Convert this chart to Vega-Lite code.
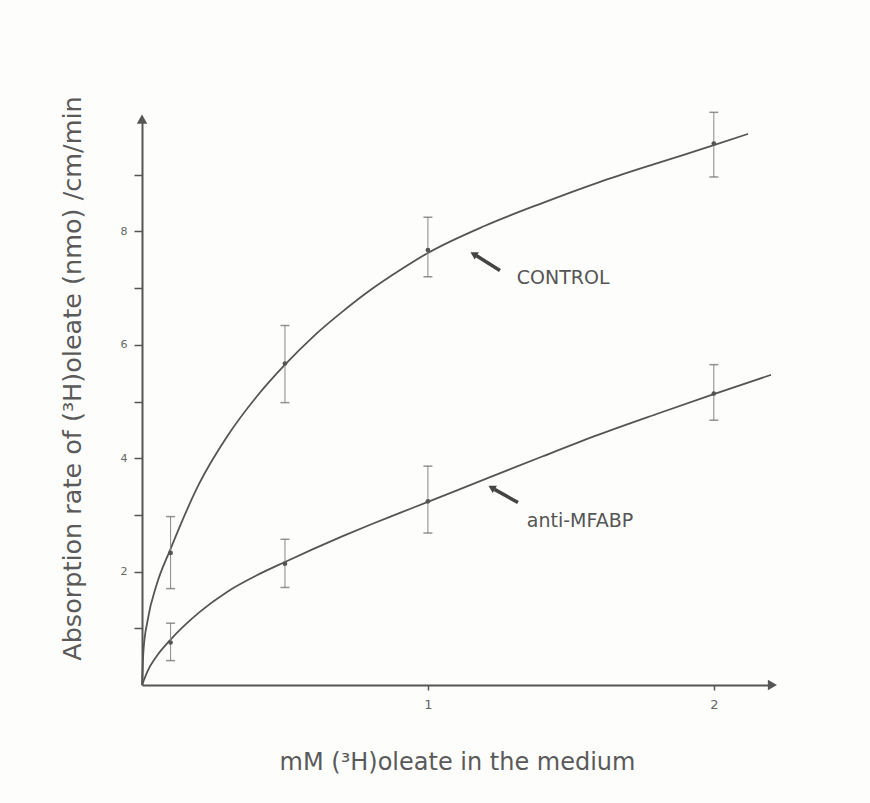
{
  "$schema": "https://vega.github.io/schema/vega-lite/v6.json",
  "autosize": {"type": "none"},
  "width": 629,
  "height": 567,
  "padding": {"left": 142, "top": 118, "right": 99, "bottom": 118},
  "background": "#fdfdfc",
  "config": {
    "view": {"stroke": null},
    "font": "DejaVu Sans",
    "axis": {"grid": false, "domainColor": "#555", "domainWidth": 2, "tickColor": "#555", "labelColor": "#666", "titleColor": "#5a5a5a", "labelFont": "DejaVu Sans", "titleFont": "DejaVu Sans", "titleFontWeight": "normal"}
  },
  "datasets": {
    "curve": [
      {"series": "CONTROL", "x": 0, "y": 0},
      {"series": "CONTROL", "x": 0.005, "y": 0.6},
      {"series": "CONTROL", "x": 0.02, "y": 1.15},
      {"series": "CONTROL", "x": 0.05, "y": 1.75},
      {"series": "CONTROL", "x": 0.1, "y": 2.4},
      {"series": "CONTROL", "x": 0.2, "y": 3.55},
      {"series": "CONTROL", "x": 0.3, "y": 4.4},
      {"series": "CONTROL", "x": 0.4, "y": 5.08},
      {"series": "CONTROL", "x": 0.5, "y": 5.65},
      {"series": "CONTROL", "x": 0.6, "y": 6.15},
      {"series": "CONTROL", "x": 0.7, "y": 6.58},
      {"series": "CONTROL", "x": 0.8, "y": 6.97},
      {"series": "CONTROL", "x": 0.9, "y": 7.31},
      {"series": "CONTROL", "x": 1.0, "y": 7.62},
      {"series": "CONTROL", "x": 1.2, "y": 8.1},
      {"series": "CONTROL", "x": 1.4, "y": 8.5},
      {"series": "CONTROL", "x": 1.6, "y": 8.87},
      {"series": "CONTROL", "x": 1.8, "y": 9.2},
      {"series": "CONTROL", "x": 2.0, "y": 9.52},
      {"series": "CONTROL", "x": 2.12, "y": 9.72},
      {"series": "anti-MFABP", "x": 0, "y": 0},
      {"series": "anti-MFABP", "x": 0.02, "y": 0.25},
      {"series": "anti-MFABP", "x": 0.05, "y": 0.5},
      {"series": "anti-MFABP", "x": 0.1, "y": 0.8},
      {"series": "anti-MFABP", "x": 0.2, "y": 1.28},
      {"series": "anti-MFABP", "x": 0.3, "y": 1.65},
      {"series": "anti-MFABP", "x": 0.4, "y": 1.93},
      {"series": "anti-MFABP", "x": 0.5, "y": 2.17},
      {"series": "anti-MFABP", "x": 0.6, "y": 2.4},
      {"series": "anti-MFABP", "x": 0.7, "y": 2.62},
      {"series": "anti-MFABP", "x": 0.8, "y": 2.83},
      {"series": "anti-MFABP", "x": 0.9, "y": 3.03},
      {"series": "anti-MFABP", "x": 1.0, "y": 3.23},
      {"series": "anti-MFABP", "x": 1.2, "y": 3.63},
      {"series": "anti-MFABP", "x": 1.4, "y": 4.03},
      {"series": "anti-MFABP", "x": 1.6, "y": 4.42},
      {"series": "anti-MFABP", "x": 1.8, "y": 4.78},
      {"series": "anti-MFABP", "x": 2.0, "y": 5.13},
      {"series": "anti-MFABP", "x": 2.2, "y": 5.47}
    ],
    "obs": [
      {"series": "CONTROL", "x": 0.1, "y": 2.33, "lo": 1.7, "hi": 2.97},
      {"series": "CONTROL", "x": 0.5, "y": 5.67, "lo": 4.98, "hi": 6.34},
      {"series": "CONTROL", "x": 1.0, "y": 7.67, "lo": 7.2, "hi": 8.25},
      {"series": "CONTROL", "x": 2.0, "y": 9.55, "lo": 8.96, "hi": 10.1},
      {"series": "anti-MFABP", "x": 0.1, "y": 0.75, "lo": 0.43, "hi": 1.09},
      {"series": "anti-MFABP", "x": 0.5, "y": 2.14, "lo": 1.72, "hi": 2.57},
      {"series": "anti-MFABP", "x": 1.0, "y": 3.24, "lo": 2.68, "hi": 3.86},
      {"series": "anti-MFABP", "x": 2.0, "y": 5.14, "lo": 4.67, "hi": 5.65}
    ],
    "labels": [
      {"label": "CONTROL", "x": 1.311, "y": 7.17},
      {"label": "anti-MFABP", "x": 1.346, "y": 2.9}
    ],
    "pointers": [
      {"label": "CONTROL", "x": 1.252, "y": 7.31, "x2": 1.17, "y2": 7.57},
      {"label": "anti-MFABP", "x": 1.315, "y": 3.22, "x2": 1.233, "y2": 3.45}
    ],
    "pointerHeads": [
      {"label": "CONTROL", "x": 1.16, "y": 7.6, "angle": -60},
      {"label": "anti-MFABP", "x": 1.223, "y": 3.48, "angle": -60}
    ],
    "axisHeads": [
      {"axis": "y", "x": 0, "y": 9.98},
      {"axis": "x", "x": 2.205, "y": 0}
    ]
  },
  "layer": [
    {
      "data": {"name": "curve"},
      "mark": {"type": "line", "interpolate": "monotone", "color": "#555", "strokeWidth": 1.8, "clip": false},
      "encoding": {
        "x": {"field": "x", "type": "quantitative", "scale": {"domain": [0, 2.2], "nice": false},
          "axis": {"values": [1, 2], "format": "d", "tickSize": 5, "tickWidth": 1.5, "labelFontSize": 13, "labelPadding": 8, "title": "mM (³H)oleate in the medium", "titleFontSize": 24, "titleX": 315, "titleY": 77, "titleAlign": "center", "titleBaseline": "middle"}},
        "y": {"field": "y", "type": "quantitative", "scale": {"domain": [0, 10], "nice": false},
          "axis": {"values": [1, 2, 3, 4, 5, 6, 7, 8, 9], "format": "d", "labelExpr": "datum.value % 2 == 0 ? datum.label : ''", "tickSize": 8, "tickWidth": 1.5, "labelFontSize": 11, "labelPadding": 7, "title": "Absorption rate of (³H)oleate (nmo) /cm/min", "titleFontSize": 25.5, "titleAngle": -90, "titleX": -70, "titleY": 260, "titleAlign": "center", "titleBaseline": "middle"}},
        "detail": {"field": "series"}
      }
    },
    {
      "data": {"name": "obs"},
      "mark": {"type": "rule", "color": "#888", "strokeWidth": 1},
      "encoding": {"x": {"field": "x", "type": "quantitative"}, "y": {"field": "lo", "type": "quantitative"}, "y2": {"field": "hi"}}
    },
    {
      "data": {"name": "obs"},
      "mark": {"type": "tick", "orient": "horizontal", "color": "#666", "thickness": 1.5, "size": 9},
      "encoding": {"x": {"field": "x", "type": "quantitative"}, "y": {"field": "lo", "type": "quantitative"}}
    },
    {
      "data": {"name": "obs"},
      "mark": {"type": "tick", "orient": "horizontal", "color": "#666", "thickness": 1.5, "size": 9},
      "encoding": {"x": {"field": "x", "type": "quantitative"}, "y": {"field": "hi", "type": "quantitative"}}
    },
    {
      "data": {"name": "obs"},
      "mark": {"type": "point", "filled": true, "color": "#555", "size": 22, "opacity": 1},
      "encoding": {"x": {"field": "x", "type": "quantitative"}, "y": {"field": "y", "type": "quantitative"}}
    },
    {
      "data": {"name": "labels"},
      "mark": {"type": "text", "align": "left", "baseline": "middle", "fontSize": 19, "color": "#555", "font": "DejaVu Sans"},
      "encoding": {"x": {"field": "x", "type": "quantitative"}, "y": {"field": "y", "type": "quantitative"}, "text": {"field": "label"}}
    },
    {
      "data": {"name": "pointers"},
      "mark": {"type": "rule", "color": "#444", "strokeWidth": 3.5},
      "encoding": {"x": {"field": "x", "type": "quantitative"}, "y": {"field": "y", "type": "quantitative"}, "x2": {"field": "x2"}, "y2": {"field": "y2"}}
    },
    {
      "data": {"name": "pointerHeads"},
      "mark": {"type": "point", "shape": "triangle-up", "filled": true, "color": "#444", "size": 70, "opacity": 1},
      "encoding": {"x": {"field": "x", "type": "quantitative"}, "y": {"field": "y", "type": "quantitative"}, "angle": {"field": "angle", "type": "quantitative", "scale": null}}
    },
    {
      "data": {"name": "axisHeads"},
      "transform": [{"filter": "datum.axis == 'y'"}],
      "mark": {"type": "point", "shape": "triangle-up", "filled": true, "color": "#555", "size": 110, "opacity": 1, "clip": false},
      "encoding": {"x": {"field": "x", "type": "quantitative"}, "y": {"field": "y", "type": "quantitative"}}
    },
    {
      "data": {"name": "axisHeads"},
      "transform": [{"filter": "datum.axis == 'x'"}],
      "mark": {"type": "point", "shape": "triangle-right", "filled": true, "color": "#555", "size": 110, "opacity": 1, "clip": false},
      "encoding": {"x": {"field": "x", "type": "quantitative"}, "y": {"field": "y", "type": "quantitative"}}
    }
  ]
}
